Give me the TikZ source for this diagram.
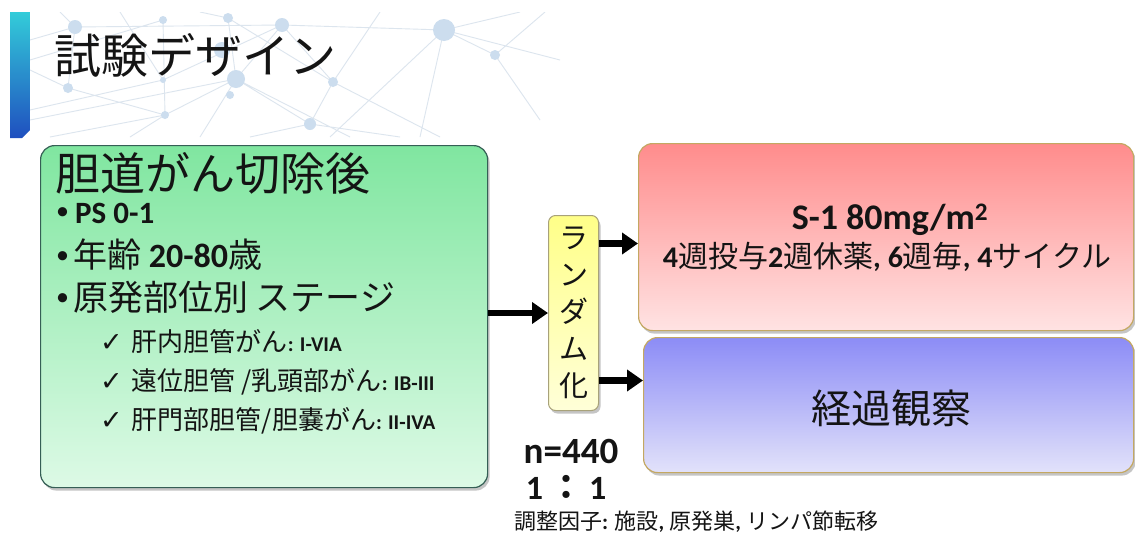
\documentclass[tikz,border=0pt]{standalone}
\usepackage{fontspec}
\setmainfont{Carlito}
\newfontfamily\jp{Noto Sans CJK JP}
\newfontfamily\sym{DejaVu Sans}
\usetikzlibrary{arrows.meta,shadows,calc}
\definecolor{gtop}{HTML}{80E6A0}
\definecolor{gbot}{HTML}{DDFAE6}
\definecolor{gbrd}{HTML}{355F55}
\definecolor{ptop}{HTML}{FF8C8C}
\definecolor{pbot}{HTML}{FFE3E3}
\definecolor{btop}{HTML}{8C8CF6}
\definecolor{bbot}{HTML}{E2E2FA}
\definecolor{tbrd}{HTML}{C4A862}
\definecolor{ytop}{HTML}{FFFF88}
\definecolor{ybot}{HTML}{FFFFD8}
\definecolor{ybrd}{HTML}{A8A27A}
\definecolor{bartop}{HTML}{33CCD9}
\definecolor{barbot}{HTML}{1F4FBF}
\definecolor{netline}{HTML}{DCE5EE}
\definecolor{netdot}{HTML}{CCDDEE}
\definecolor{ink}{HTML}{141414}
\newcommand{\fs}[1]{\fontsize{#1}{#1}\selectfont}
\newcommand{\bul}{\raisebox{0.12em}{\fontsize{26}{26}\selectfont•}}
\begin{document}
\begin{tikzpicture}[x=1pt,y=-1pt,
  box/.style={rounded corners=14pt, line width=1.2pt, drop shadow={shadow xshift=2pt, shadow yshift=-3pt, opacity=0.45}},
  arr/.style={line width=6.5pt, -{Triangle[length=16pt,width=21pt]}, black},
  txt/.style={inner sep=0pt, text=ink},
  chk/.style={txt, anchor=west}
]
\useasboundingbox (0,0) rectangle (1135,536);
\fill[white] (0,0) rectangle (1135,536);
% network background
\begin{scope}
\clip (30,12) rectangle (560,137);
\draw[netline, line width=0.9pt]
  (75,27)--(282,25) (282,25)--(444,30) (444,30)--(520,12) (444,30)--(495,55)
  (444,30)--(330,137) (495,55)--(545,12) (282,25)--(236,79) (236,79)--(310,124)
  (236,79)--(165,115) (165,115)--(68,88) (68,88)--(30,70) (75,27)--(68,88)
  (163,20)--(165,115) (228,18)--(236,79) (228,18)--(333,82) (333,82)--(440,137)
  (333,82)--(310,124) (310,124)--(250,137) (236,79)--(200,137) (30,120)--(236,79)
  (163,80)--(282,25) (163,80)--(30,110) (333,82)--(282,25) (380,12)--(333,82)
  (310,124)--(400,137) (130,137)--(165,115) (444,30)--(420,137) (50,137)--(165,115)
  (236,79)--(350,137) (495,55)--(540,120) (120,12)--(163,80) (60,12)--(75,27)
  (200,12)--(228,18) (30,40)--(75,27) (444,30)--(560,60) (163,20)--(30,60);
\fill[netdot] (75,27) circle (7) (163,20) circle (4) (228,18) circle (5)
  (282,25) circle (7) (444,30) circle (11) (495,55) circle (5) (222,50) circle (8)
  (236,79) circle (9) (333,82) circle (5) (68,88) circle (5) (163,80) circle (3)
  (165,115) circle (4) (310,124) circle (6) (230,95) circle (4);
\end{scope}
% title bar
\shade[top color=bartop, bottom color=barbot] (10,12) -- (30,12) -- (30,130) -- (22,138) -- (10,138) -- cycle;
\node[txt, anchor=west, font=\jp\fs{47}] (title) at (54,55) {試験デザイン};

% boxes
\node[box, draw=gbrd, top color=gtop, bottom color=gbot, anchor=north west,
      minimum width=447pt, minimum height=342pt] (pt) at (40,145) {};
\node[box, draw=tbrd, top color=ptop, bottom color=pbot, anchor=north west,
      minimum width=495pt, minimum height=187pt] (s1) at (638,143) {};
\node[box, draw=tbrd, top color=btop, bottom color=bbot, anchor=north west,
      minimum width=490pt, minimum height=135pt] (obs) at (643,337) {};
\node[box, rounded corners=7pt, draw=ybrd, line width=1pt, top color=ytop, bottom color=ybot,
      anchor=north west, minimum width=50pt, minimum height=195pt] (rnd) at (548,215) {};

% green box text
\node[txt, anchor=west, font=\jp\fs{45}] (h) at (55,173) {胆道がん切除後};
\node[txt, anchor=west, font=\fs{31}] (b1) at (56,213) {\bul\hspace{6pt}\bfseries PS 0-1};
\node[txt, anchor=west, font=\fs{34}] (b2) at (56,255) {\bul\hspace{4pt}{\jp 年齢} \textbf{20-80}{\jp 歳}};
\node[txt, anchor=west, font=\fs{35}] (b3) at (56,297) {\bul\hspace{4pt}{\jp 原発部位別 ステージ}};
\node[chk, font=\fs{26}] (c1) at (100,342) {{\sym\fs{27}✓}\hspace{9pt}{\jp 肝内胆管がん}{\bfseries\fs{21}: I-VIA}};
\node[chk, font=\fs{26}] (c2) at (100,382) {{\sym\fs{27}✓}\hspace{9pt}{\jp 遠位胆管 /乳頭部がん}{\bfseries\fs{21}: IB-III}};
\node[chk, font=\fs{26}] (c3) at (100,421) {{\sym\fs{27}✓}\hspace{9pt}{\jp 肝門部胆管/胆嚢がん}{\bfseries\fs{21}: II-IVA}};

% randomization text
\node[txt, align=center, font=\jp\fontsize{29}{37}\selectfont] (rt) at (rnd.center) {ラ\\ン\\ダ\\ム\\化};

% right box text
\node[txt, font=\bfseries\fs{36}] (s1a) at (890,220) {S-1 80mg/m\textsuperscript{2}};
\node[txt, font=\fs{30}] (s1b) at (887,257) {\textbf{4}{\jp 週投与}\textbf{2}{\jp 週休薬}\textbf{, 6}{\jp 週毎}\textbf{, 4}{\jp サイクル}};
\node[txt, font=\jp\fs{40}] (obst) at (891,408) {経過観察};

% n
\node[txt, font=\bfseries\fs{37}] (n) at (571,451) {n=440};
\node[txt, font=\bfseries\fs{34}] (ratio) at (566,487) {1\hspace{6pt}{\jp ：}\hspace{6pt}1};
\node[txt, font=\fs{22}] (adj) at (696,522) {{\jp 調整因子}\textbf{: }{\jp 施設}\textbf{, }{\jp 原発巣}\textbf{, }{\jp リンパ節転移}};

% arrows
\draw[arr] (pt.east |- rnd.west) -- (rnd.west);
\path ([yshift=69.5pt]rnd.east) coordinate (a1);
\path ([yshift=-67.5pt]rnd.east) coordinate (a2);
\draw[arr] (a1) -- (a1 -| s1.west);
\draw[arr] (a2) -- (a2 -| obs.west);
\end{tikzpicture}
\end{document}
